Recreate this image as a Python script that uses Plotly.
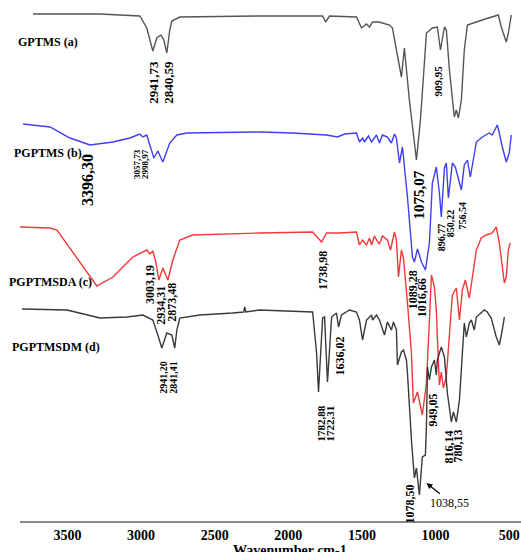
import plotly.graph_objects as go

# ---- data (wavenumber cm-1, relative transmittance offset) ----
wn_a = [3734, 3279, 3008, 2961, 2920, 2893, 2866, 2845, 2825, 2805, 2791, 2737, 2195, 1767, 1747, 1720,
        1537, 1503, 1469, 1449, 1428, 1388, 1361, 1313, 1293, 1232, 1212, 1178, 1130, 1103, 1062, 1022,
        988, 967, 940, 927, 906, 873, 859, 845, 825, 805, 784, 750, 703, 662, 615, 574, 554, 520, 506, 486]
t_a = [507, 507, 505, 493, 470, 483, 486, 481, 468, 491, 500, 504, 505, 505, 499, 505,
       504, 493, 497, 494, 499, 499, 498, 496, 493, 444, 473, 421, 361, 401, 488, 493,
       494, 471, 494, 491, 451, 404, 411, 403, 421, 471, 496, 498, 500, 502, 504, 506, 494, 479, 488, 506]

wn_b = [3801, 3618, 3483, 3347, 3191, 3076, 3008, 2988, 2961, 2934, 2913, 2886, 2852, 2805, 2757, 2690,
        2195, 1971, 1740, 1666, 1618, 1537, 1517, 1496, 1483, 1456, 1435, 1401, 1381, 1361, 1327, 1300,
        1279, 1266, 1245, 1225, 1191, 1157, 1144, 1123, 1096, 1069, 1042, 1022, 995, 974, 961, 940, 927,
        913, 886, 866, 825, 805, 784, 764, 723, 683, 635, 615, 581, 567, 547, 520, 500, 486]
t_b = [397, 394, 383, 376, 379, 383, 387, 384, 386, 373, 363, 370, 359, 378, 386, 388,
       389, 388, 386, 384, 387, 388, 379, 383, 379, 385, 379, 386, 378, 386, 384, 378,
       387, 383, 358, 374, 324, 264, 259, 272, 259, 251, 278, 338, 354, 328, 304, 353, 358,
       323, 358, 354, 331, 356, 361, 344, 379, 384, 388, 386, 396, 388, 374, 359, 368, 386]

wn_c = [3822, 3618, 3571, 3462, 3300, 3191, 3056, 2961, 2940, 2920, 2900, 2879, 2852, 2818, 2784, 2737,
        2649, 2195, 1835, 1774, 1740, 1652, 1537, 1517, 1496, 1469, 1449, 1435, 1415, 1401, 1381, 1361,
        1327, 1306, 1279, 1266, 1252, 1232, 1218, 1191, 1164, 1151, 1123, 1090, 1062, 1042, 1028, 1008,
        995, 988, 974, 961, 947, 927, 906, 886, 859, 838, 818, 798, 771, 750, 723, 690, 656, 615, 588,
        567, 547, 533, 520, 506, 493]
t_c = [294, 293, 291, 268, 235, 244, 264, 271, 267, 270, 259, 241, 253, 241, 261, 281,
       286, 288, 289, 279, 288, 288, 289, 276, 281, 276, 283, 276, 285, 281, 277, 285,
       281, 271, 289, 281, 244, 271, 263, 218, 168, 118, 129, 106, 138, 201, 246, 234,
       211, 184, 136, 149, 133, 144, 191, 226, 233, 201, 231, 241, 223, 244, 271, 283, 286, 288, 294,
       278, 254, 238, 244, 271, 278]

wn_d = [3808, 3503, 3279, 3096, 2988, 2920, 2886, 2859, 2825, 2791, 2771, 2757, 2737, 2601, 2378, 2303,
        2296, 2289, 2195, 1835, 1808, 1795, 1767, 1754, 1734, 1706, 1673, 1659, 1639, 1584, 1537, 1517,
        1496, 1469, 1435, 1428, 1401, 1381, 1347, 1327, 1300, 1286, 1266, 1259, 1232, 1218, 1198, 1191,
        1164, 1144, 1130, 1110, 1090, 1069, 1062, 1055, 1042, 1028, 1008, 995, 988, 961, 940, 927, 920,
        893, 879, 859, 838, 818, 805, 791, 771, 757, 737, 723, 690, 669, 649, 622, 588, 567, 547, 533]
t_d = [212, 211, 203, 204, 206, 201, 186, 173, 188, 186, 173, 191, 203, 206, 208, 209,
       214, 209, 211, 209, 168, 129, 203, 204, 139, 204, 208, 194, 206, 211, 209, 201,
       181, 201, 206, 201, 206, 201, 186, 199, 191, 199, 191, 156, 169, 171, 161, 148,
       81, 43, 53, 26, 64, 66, 96, 154, 141, 154, 161, 146, 161, 174, 164, 141, 128,
       99, 109, 99, 121, 168, 198, 184, 198, 201, 191, 204, 208, 211, 209, 203, 184, 176, 191, 204]

series_names = ["GPTMS (a)", "PGPTMS (b)", "PGPTMSDA (c)", "PGPTMSDM (d)"]
series_colors = ["#555555", "#3f3fee", "#f03a3a", "#3a3a3a"]

# peak labels: text, wavenumber position, vertical position, font size
peak_text = ["2941,73", "2840,59", "909,95", "3396,30", "3057,73", "2998,97", "1075,07", "896,77",
             "850,22", "756,54", "1738,98", "1089,28", "1016,66", "3003,19", "2934,31", "2873,48",
             "1636,02", "2941,20", "2841,41", "1782,88", "1722,31", "949,05", "816,14", "780,13", "1078,50"]
peak_x = [2920, 2818, 981, 3367, 3028, 2974, 1110, 961, 900, 818, 1767, 1151, 1090, 2940, 2866, 2791,
          1652, 2852, 2784, 1781, 1720, 1015, 906, 845, 1171]
peak_y = [439, 439, 440, 341, 357, 357, 326, 284, 298, 306, 251, 231, 223, 237, 216, 219,
          165, 144, 144, 97, 97, 111, 74, 75, 17]
peak_size = [13, 13, 11, 16, 9, 9, 15, 10, 10, 10, 12, 12, 12, 12, 12, 12,
             12, 10, 10, 11, 11, 12, 12, 12, 12]

tick_vals = [3500, 3000, 2500, 2000, 1500, 1000, 500]

fig = go.Figure()
for wn, t, name, col in zip([wn_a, wn_b, wn_c, wn_d], [t_a, t_b, t_c, t_d], series_names, series_colors):
    fig.add_trace(go.Scatter(x=wn, y=t, mode="lines", name=name,
                             line=dict(color=col, width=1.4), hoverinfo="skip"))

serif = "Liberation Serif"
ann = []
for txt, x, y, s in zip(peak_text, peak_x, peak_y, peak_size):
    ann.append(dict(x=x, y=y, xref="x", yref="y", text="<b>%s</b>" % txt, showarrow=False,
                    textangle=-90, font=dict(family=serif, size=s, color="black"),
                    xanchor="center", yanchor="middle"))

# horizontal label with arrow
ann.append(dict(x=906, y=18, xref="x", yref="y", text="1038,55", showarrow=False,
                font=dict(family=serif, size=12, color="black"), xanchor="center", yanchor="middle"))
ann.append(dict(x=1062, y=38, xref="x", yref="y", ax=961, ay=26, axref="x", ayref="y",
                text="", showarrow=True, arrowhead=2, arrowsize=1, arrowwidth=1.2, arrowcolor="black"))

label_x = [-0.008, -0.016, -0.026, -0.020]
label_y = [479, 368, 239, 174]
for name, lx, ly in zip(series_names, label_x, label_y):
    ann.append(dict(x=lx, y=ly, xref="paper", yref="y", text="<b>%s</b>" % name, showarrow=False,
                    font=dict(family=serif, size=12, color="black"), xanchor="left", yanchor="middle"))

ann.append(dict(x=1990, y=-0.057, xref="x", yref="paper", text="<b>Wavenumber cm-1</b>", showarrow=False,
                font=dict(family=serif, size=14, color="black"), xanchor="center", yanchor="middle"))

fig.update_layout(
    width=521, height=552,
    margin=dict(l=20, r=0, t=0, b=31),
    paper_bgcolor="white", plot_bgcolor="white",
    showlegend=False,
    annotations=ann,
    xaxis=dict(range=[3822, 420], tickvals=tick_vals, ticktext=["<b>%d</b>" % v for v in tick_vals],
               showgrid=False, zeroline=False, showline=True, linecolor="#8a8a8a", linewidth=1.5,
               ticks="", tickfont=dict(family=serif, size=14, color="black")),
    yaxis=dict(range=[0, 521], visible=False, showgrid=False, zeroline=False),
)

fig.write_html("out.html", config={"displayModeBar": False},
               post_script="document.body.style.margin='0';")
